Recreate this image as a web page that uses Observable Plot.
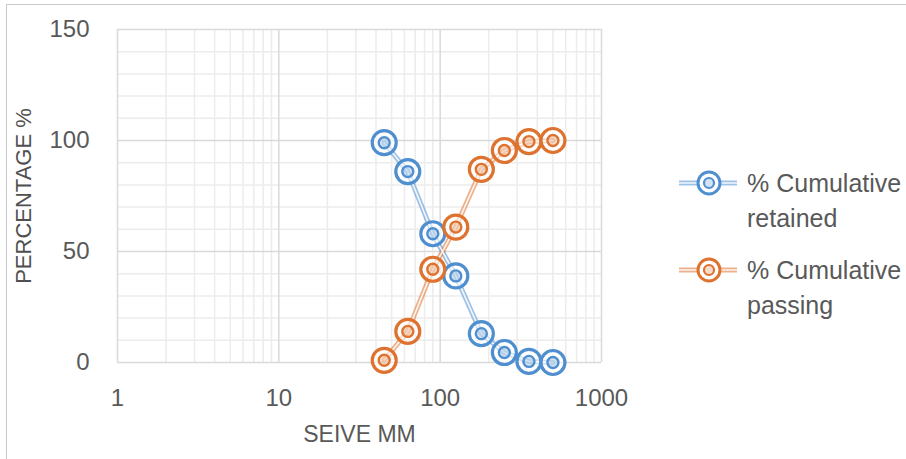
<!DOCTYPE html>
<html>
<head>
<meta charset="utf-8">
<script src="https://cdn.jsdelivr.net/npm/d3@7"></script>
<script src="https://cdn.jsdelivr.net/npm/@observablehq/plot@0.6"></script>
<style>
  html, body { margin: 0; padding: 0; background: #fff; }
  #wrap { position: relative; width: 906px; height: 459px; overflow: hidden; }
  #frame { position: absolute; left: 6px; top: 4px; width: 1000px; height: 1000px; border: 1.5px solid #c8c8c8; box-sizing: border-box; }
  #chart { position: absolute; left: 0; top: 0; }
  #legend { position: absolute; left: 677px; top: 166px; font-family: 'Liberation Sans', Arial, sans-serif; font-size: 25px; color: #595959; white-space: nowrap; }
  .item { position: relative; padding-left: 70px; line-height: 35px; margin-bottom: 17px; }
  .item svg { position: absolute; left: 0; top: 2px; }
</style>
</head>
<body>
<div id="wrap">
  <div id="frame"></div>
  <div id="chart"></div>
  <div id="legend"></div>
</div>
<script>
const sieveMM = [45, 63, 90, 125, 180, 250, 355, 500];
const cumRetained = [99, 86, 58, 39, 13, 4.5, 0.5, 0];
const cumPassing = [1, 14, 42, 61, 87, 95.5, 99.5, 100];
const seriesNames = ["% Cumulative retained", "% Cumulative passing"];
const seriesColors = ["#4f8fcf", "#de7330"];
const xTicks = [1, 10, 100, 1000];
const yTicks = [0, 50, 100, 150];

const xMinor = [];
for (const d of [1, 10, 100]) for (let k = 2; k <= 9; k++) xMinor.push(d * k);
const yMinor = d3.range(10, 150, 10).filter(v => v % 50 !== 0);

const rows = [
  ...sieveMM.map((s, i) => ({ s, v: cumRetained[i], series: seriesNames[0] })),
  ...sieveMM.map((s, i) => ({ s, v: cumPassing[i], series: seriesNames[1] }))
];

const font = "'Liberation Sans', Arial, sans-serif";

const chart = Plot.plot({
  width: 906,
  height: 459,
  marginLeft: 117,
  marginRight: 305,
  marginTop: 29,
  marginBottom: 97,
  style: { fontFamily: font, fontSize: "24px", color: "#595959", background: "transparent", overflow: "visible" },
  x: { type: "log", domain: [1, 1000], label: null },
  y: { domain: [0, 150], label: null },
  color: { domain: seriesNames, range: seriesColors },
  marks: [
    Plot.ruleX(xMinor, { stroke: "#ececec", strokeWidth: 1.5 }),
    Plot.ruleY(yMinor, { stroke: "#ececec", strokeWidth: 1.5 }),
    Plot.ruleX(xTicks, { stroke: "#d9d9d9", strokeWidth: 1.5 }),
    Plot.ruleY(yTicks, { stroke: "#d9d9d9", strokeWidth: 1.5 }),
    Plot.axisX({ ticks: xTicks, tickSize: 0, tickPadding: 26, tickFormat: d => String(d), fontSize: 24, label: null }),
    Plot.axisY({ ticks: yTicks, tickSize: 0, tickPadding: 28, tickFormat: d => String(d), fontSize: 24, label: null }),
    Plot.text(["PERCENTAGE %"], { frameAnchor: "left", textAnchor: "middle", dx: -94, rotate: -90, fontSize: 22, fill: "#505050", fontWeight: 500, text: d => d }),
    Plot.text(["SEIVE MM"], { frameAnchor: "bottom", dy: 79, fontSize: 23, fill: "#595959", text: d => d }),
    Plot.line(rows, { x: "s", y: "v", z: "series", stroke: "series", strokeWidth: 5, strokeOpacity: 0.55 }),
    Plot.line(rows, { x: "s", y: "v", z: "series", stroke: "#ffffff", strokeWidth: 1.6, strokeOpacity: 0.85 }),
    Plot.dot(rows, { x: "s", y: "v", r: 12, stroke: "series", strokeWidth: 3.2, fill: "#ffffff", fillOpacity: 0.55 }),
    Plot.dot(rows, { x: "s", y: "v", r: 5.5, stroke: "series", strokeWidth: 2.4, fill: "series", fillOpacity: 0.25 })
  ]
});
document.getElementById("chart").appendChild(chart);

const legend = document.getElementById("legend");
seriesNames.forEach((name, i) => {
  const c = seriesColors[i];
  const parts = name.split(" ");
  const div = document.createElement("div");
  div.className = "item";
  div.innerHTML = `<svg width="62" height="30" viewBox="0 0 62 30">
      <line x1="2" y1="15" x2="60" y2="15" stroke="${c}" stroke-width="5" stroke-opacity="0.55"/>
      <line x1="2" y1="15" x2="60" y2="15" stroke="#fff" stroke-width="1.6" stroke-opacity="0.85"/>
      <circle cx="32" cy="15" r="11" stroke="${c}" stroke-width="3" fill="#fff"/>
      <circle cx="32" cy="15" r="5" stroke="${c}" stroke-width="2.2" fill="${c}" fill-opacity="0.25"/>
    </svg>${parts[0]} ${parts[1]}<br>${parts.slice(2).join(" ")}`;
  legend.appendChild(div);
});
</script>
</body>
</html>
